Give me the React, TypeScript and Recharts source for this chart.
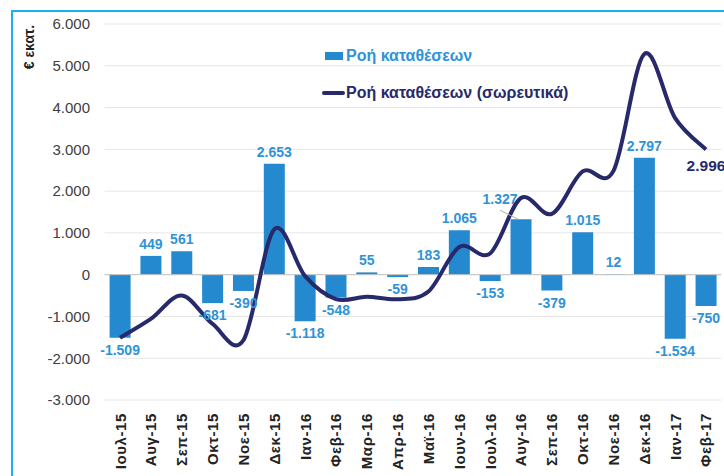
import {
  Bar,
  CartesianGrid,
  ComposedChart,
  LabelList,
  Legend,
  Line,
  ReferenceLine,
  XAxis,
  YAxis,
} from "recharts";

const months = [
  "Ιουλ-15", "Αυγ-15", "Σεπ-15", "Οκτ-15", "Νοε-15", "Δεκ-15", "Ιαν-16",
  "Φεβ-16", "Μαρ-16", "Απρ-16", "Μαϊ-16", "Ιουν-16", "Ιουλ-16", "Αυγ-16",
  "Σεπ-16", "Οκτ-16", "Νοε-16", "Δεκ-16", "Ιαν-17", "Φεβ-17",
];
const flows = [
  -1509, 449, 561, -681, -390, 2653, -1118, -548, 55, -59, 183, 1065, -153,
  1327, -379, 1015, 12, 2797, -1534, -750,
];
const cumulative = [
  -1509, -1060, -499, -1180, -1570, 1083, -35, -583, -528, -587, -404, 661,
  508, 1835, 1456, 2471, 2483, 5280, 3746, 2996,
];
const yTicks = [-3000, -2000, -1000, 0, 1000, 2000, 3000, 4000, 5000, 6000];

const BAR = "#2589cf";
const BAR_TEXT = "#2f93d8";
const NAVY = "#27296b";
const FONT = "'Liberation Sans', Arial, sans-serif";

const data = months.map((m, i) => ({ m, flow: flows[i], cum: cumulative[i] }));

const fmt = (v: number) => {
  const s = Math.abs(v).toString().replace(/\B(?=(\d{3})+(?!\d))/g, ".");
  return (v < 0 ? "-" : "") + s;
};

// excel-like smoothed line (catmull-rom)
const smooth = (context: any) => {
  let pts: number[][] = [];
  return {
    areaStart() {},
    areaEnd() {},
    lineStart() {
      pts = [];
    },
    point(x: number, y: number) {
      pts.push([+x, +y]);
    },
    lineEnd() {
      const n = pts.length;
      if (!n) return;
      context.moveTo(pts[0][0], pts[0][1]);
      const k = 1 / 6;
      for (let i = 0; i < n - 1; i++) {
        const p0 = pts[Math.max(i - 1, 0)];
        const p1 = pts[i];
        const p2 = pts[i + 1];
        const p3 = pts[Math.min(i + 2, n - 1)];
        context.bezierCurveTo(
          p1[0] + (p2[0] - p0[0]) * k,
          p1[1] + (p2[1] - p0[1]) * k,
          p2[0] - (p3[0] - p1[0]) * k,
          p2[1] - (p3[1] - p1[1]) * k,
          p2[0],
          p2[1]
        );
      }
    },
  };
};

const BarLabel = (props: any) => {
  const { x, y, width, height, value, index } = props;
  const cx = x + width / 2;
  const top = Math.min(y, y + height);
  const bottom = Math.max(y, y + height);
  const style = { fontFamily: FONT, fontSize: 14, fontWeight: 700, fill: BAR_TEXT };
  if (months[index] === "Αυγ-16") {
    // label pulled aside with a leader line
    return (
      <g>
        <line x1={cx - 3} y1={top} x2={cx - 21} y2={top - 9} stroke="#b0b0b0" strokeWidth={1} />
        <text x={cx - 21} y={top - 20} textAnchor="middle" dominantBaseline="central" {...style}>
          {fmt(value)}
        </text>
      </g>
    );
  }
  const ty = value < 0 ? bottom + 12 : top - 12;
  return (
    <text x={cx} y={ty} textAnchor="middle" dominantBaseline="central" {...style}>
      {fmt(value)}
    </text>
  );
};

const LineLabel = (props: any) => {
  const { x, y, value, index } = props;
  if (index !== months.length - 1) return null;
  return (
    <text
      x={x}
      y={y + 16}
      textAnchor="middle"
      dominantBaseline="central"
      fontFamily={FONT}
      fontSize={15.5}
      fontWeight={700}
      fill={NAVY}
    >
      {fmt(value)}
    </text>
  );
};

const XTick = ({ x, y, payload }: any) => (
  <text
    x={x}
    y={y + 5}
    transform={`rotate(-90 ${x} ${y + 5})`}
    textAnchor="end"
    dominantBaseline="central"
    fontFamily={FONT}
    fontSize={15}
    fontWeight={700}
    letterSpacing={0.6}
    fill="#222"
  >
    {payload.value}
  </text>
);

const LegendBox = () => (
  <div style={{ fontFamily: FONT, fontSize: 16, fontWeight: 700, lineHeight: "20px" }}>
    <div style={{ display: "flex", alignItems: "center", color: BAR_TEXT }}>
      <span style={{ width: 18, height: 8, background: BAR, marginLeft: 3, marginRight: 3 }} />
      Ροή καταθέσεων
    </div>
    <div style={{ display: "flex", alignItems: "center", color: NAVY, marginTop: 17 }}>
      <span style={{ width: 23, height: 4, borderRadius: 2, background: NAVY, marginRight: 1 }} />
      Ροή καταθέσεων (σωρευτικά)
    </div>
  </div>
);

export default function App() {
  return (
    <div
      style={{
        position: "fixed",
        left: 0,
        top: 0,
        width: 724,
        height: 476,
        overflow: "hidden",
        background: "#fff",
      }}
    >
      <div
        style={{
          position: "absolute",
          left: 11,
          top: 10,
          width: 800,
          height: 600,
          borderLeft: "2px solid #1ab0ee",
          borderTop: "2px solid #1ab0ee",
        }}
      />
      <div style={{ position: "absolute", left: 0, top: 0 }}>
        <ComposedChart
          width={724}
          height={476}
          data={data}
          margin={{ top: 24, right: 2.6, left: 0, bottom: 0 }}
          barSize={21}
        >
          <CartesianGrid vertical={false} stroke="#e6e6e6" />
          <XAxis
            dataKey="m"
            height={76}
            interval={0}
            axisLine={false}
            tickLine={false}
            tick={<XTick />}
          />
          <YAxis
            width={104.6}
            domain={[-3000, 6000]}
            ticks={yTicks}
            interval={0}
            axisLine={false}
            tickLine={false}
            tickMargin={8.6}
            tickFormatter={fmt}
            tick={{ fontFamily: FONT, fontSize: 15, fill: "#404040" }}
            label={{
              content: ({ viewBox }: any) => (
                <text
                  x={viewBox.x + 29}
                  y={viewBox.y + 23}
                  transform={`rotate(-90 ${viewBox.x + 29} ${viewBox.y + 23})`}
                  textAnchor="middle"
                  dominantBaseline="central"
                  fontFamily={FONT}
                  fontSize={14}
                  fontWeight={700}
                  fill="#222"
                >
                  € εκατ.
                </text>
              ),
            }}
          />
          <ReferenceLine y={0} stroke="#c4c4c4" strokeWidth={1} />
          <Legend
            layout="horizontal"
            verticalAlign="middle"
            align="center"
            content={<LegendBox />}
            wrapperStyle={{ position: "absolute", left: 322, top: 46, width: 300 }}
          />
          <Bar dataKey="flow" fill={BAR} isAnimationActive={false}>
            <LabelList dataKey="flow" content={<BarLabel />} />
          </Bar>
          <Line
            dataKey="cum"
            type={smooth as any}
            stroke={NAVY}
            strokeWidth={4}
            dot={false}
            activeDot={false}
            isAnimationActive={false}
          >
            <LabelList dataKey="cum" content={<LineLabel />} />
          </Line>
        </ComposedChart>
      </div>
    </div>
  );
}
